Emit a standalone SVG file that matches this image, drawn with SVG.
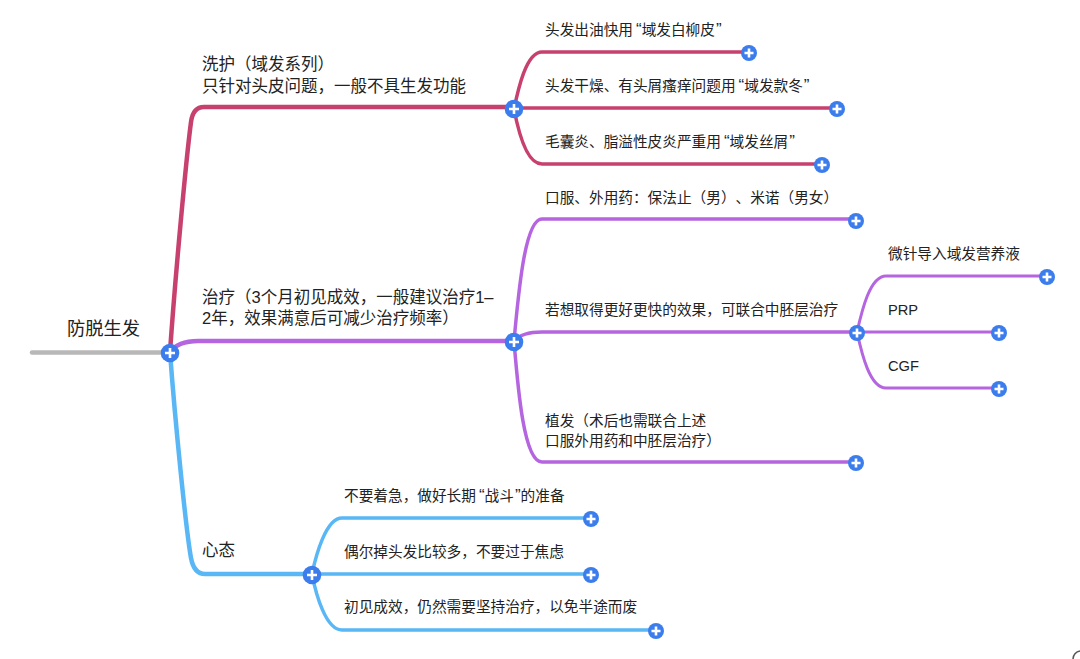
<svg xmlns="http://www.w3.org/2000/svg" width="1080" height="659" viewBox="0 0 1080 659">
<style>
text{font-family:"Liberation Sans","Noto Sans CJK SC",sans-serif;font-size:14.67px;fill:#222;text-spacing-trim:space-all}
.l{font-size:16.5px}
.r{font-size:18.3px}
.q{font-size:17px}
.c{fill:none;stroke-linecap:round}
.red{stroke:#c8406e}
.pur{stroke:#b565e0}
.blu{stroke:#5ab7f5}
.w5{stroke-width:4.5px}
.w4{stroke-width:3.5px}
.w3{stroke-width:3px}
.bc{fill:#3b7ded}
.pl{stroke:#fff;stroke-width:2.6px;fill:none}
</style>
<defs>
<g id="plus"><circle r="8" class="bc"/><path class="pl" d="M-4.500 0H4.500M0 -4.500V4.500"/></g>
<g id="plusb"><circle r="9.300" class="bc"/><path class="pl" d="M-5 0H5M0 -5V5"/></g>
</defs>
<rect width="1080" height="659" fill="#fff"/>
<g id="connectors">
<path class="c" d="M32 352.500H170" stroke="#b8b8b8" stroke-width="4.500"/>
<path class="c red w5" d="M170 352C175 280 186 160 191 122Q193 107 204 107H514"/>
<path class="c pur w5" d="M170 352Q178 341 198 341H514"/>
<path class="c blu w5" d="M170 352C175 420 186 530 191 558Q194 574 205 574H312"/>
<path class="c red w4" d="M514 109C518 90 526 52 542 52H749"/>
<path class="c red w4" d="M514 108H837"/>
<path class="c red w4" d="M514 109C518 130 526 164 542 164H822"/>
<path class="c pur w4" d="M514 341C518 300 524 219 542 219H856"/>
<path class="c pur w4" d="M514 341Q522 332 542 332H856"/>
<path class="c pur w4" d="M514 341C518 390 524 462 542 462H856"/>
<path class="c pur w3" d="M857 332C862 310 870 276 886 276H1047"/>
<path class="c pur w3" d="M857 332H999"/>
<path class="c pur w3" d="M857 332C862 355 870 388 886 388H999"/>
<path class="c blu w4" d="M312 574C316 555 326 518 342 518H591"/>
<path class="c blu w4" d="M312 574H591"/>
<path class="c blu w4" d="M312 574C316 595 326 630 342 630H656"/>
<path d="M1073 659A8 8 0 0 1 1080 651" fill="none" stroke="#555" stroke-width="1.500"/>
</g>
<g id="root"><text class="r" x="67" y="334.500">防脱生发</text><use href="#plusb" x="170" y="353"/></g>
<g id="n-xihu"><text class="l" x="202" y="70">洗护（域发系列）</text><text class="l" x="202" y="92">只针对头皮问题，一般不具生发功能</text><use href="#plusb" x="514" y="109"/></g>
<g id="n-zhiliao"><text class="l" x="202" y="303">治疗（3个月初见成效，一般建议治疗1–</text><text class="l" x="202" y="324">2年，效果满意后可减少治疗频率）</text><use href="#plusb" x="514" y="342"/></g>
<g id="n-xintai"><text class="l" x="202" y="556">心态</text><use href="#plusb" x="312" y="575"/></g>
<g id="n-a1"><text x="545" y="35">头发出油快用<tspan class="q" dx="3">“</tspan>域发白柳皮<tspan class="q" dx="1">”</tspan></text><use href="#plus" x="749" y="53"/></g>
<g id="n-a2"><text x="545" y="91">头发干燥、有头屑瘙痒问题用<tspan class="q" dx="3">“</tspan>域发款冬<tspan class="q" dx="1">”</tspan></text><use href="#plus" x="837" y="109"/></g>
<g id="n-a3"><text x="545" y="147">毛囊炎、脂溢性皮炎严重用<tspan class="q" dx="3">“</tspan>域发丝屑<tspan class="q" dx="1">”</tspan></text><use href="#plus" x="822" y="165"/></g>
<g id="n-b1"><text x="545" y="203">口服、外用药：保法止（男）、米诺（男女）</text><use href="#plus" x="856" y="221"/></g>
<g id="n-b2"><text x="545" y="315">若想取得更好更快的效果，可联合中胚层治疗</text><use href="#plus" x="857" y="333"/></g>
<g id="n-b3"><text x="545" y="426">植发（术后也需联合上述</text><text x="545" y="446">口服外用药和中胚层治疗）</text><use href="#plus" x="856" y="463"/></g>
<g id="n-c1"><text x="888" y="259">微针导入域发营养液</text><use href="#plus" x="1047" y="277"/></g>
<g id="n-c2"><text x="888" y="315">PRP</text><use href="#plus" x="999" y="333"/></g>
<g id="n-c3"><text x="888" y="371">CGF</text><use href="#plus" x="999" y="389"/></g>
<g id="n-d1"><text x="344" y="501">不要着急，做好长期<tspan class="q" dx="3">“</tspan>战斗<tspan class="q" dx="1">”</tspan>的准备</text><use href="#plus" x="591" y="519"/></g>
<g id="n-d2"><text x="344" y="557">偶尔掉头发比较多，不要过于焦虑</text><use href="#plus" x="591" y="575"/></g>
<g id="n-d3"><text x="344" y="612">初见成效，仍然需要坚持治疗，以免半途而废</text><use href="#plus" x="656" y="631"/></g>
</svg>
